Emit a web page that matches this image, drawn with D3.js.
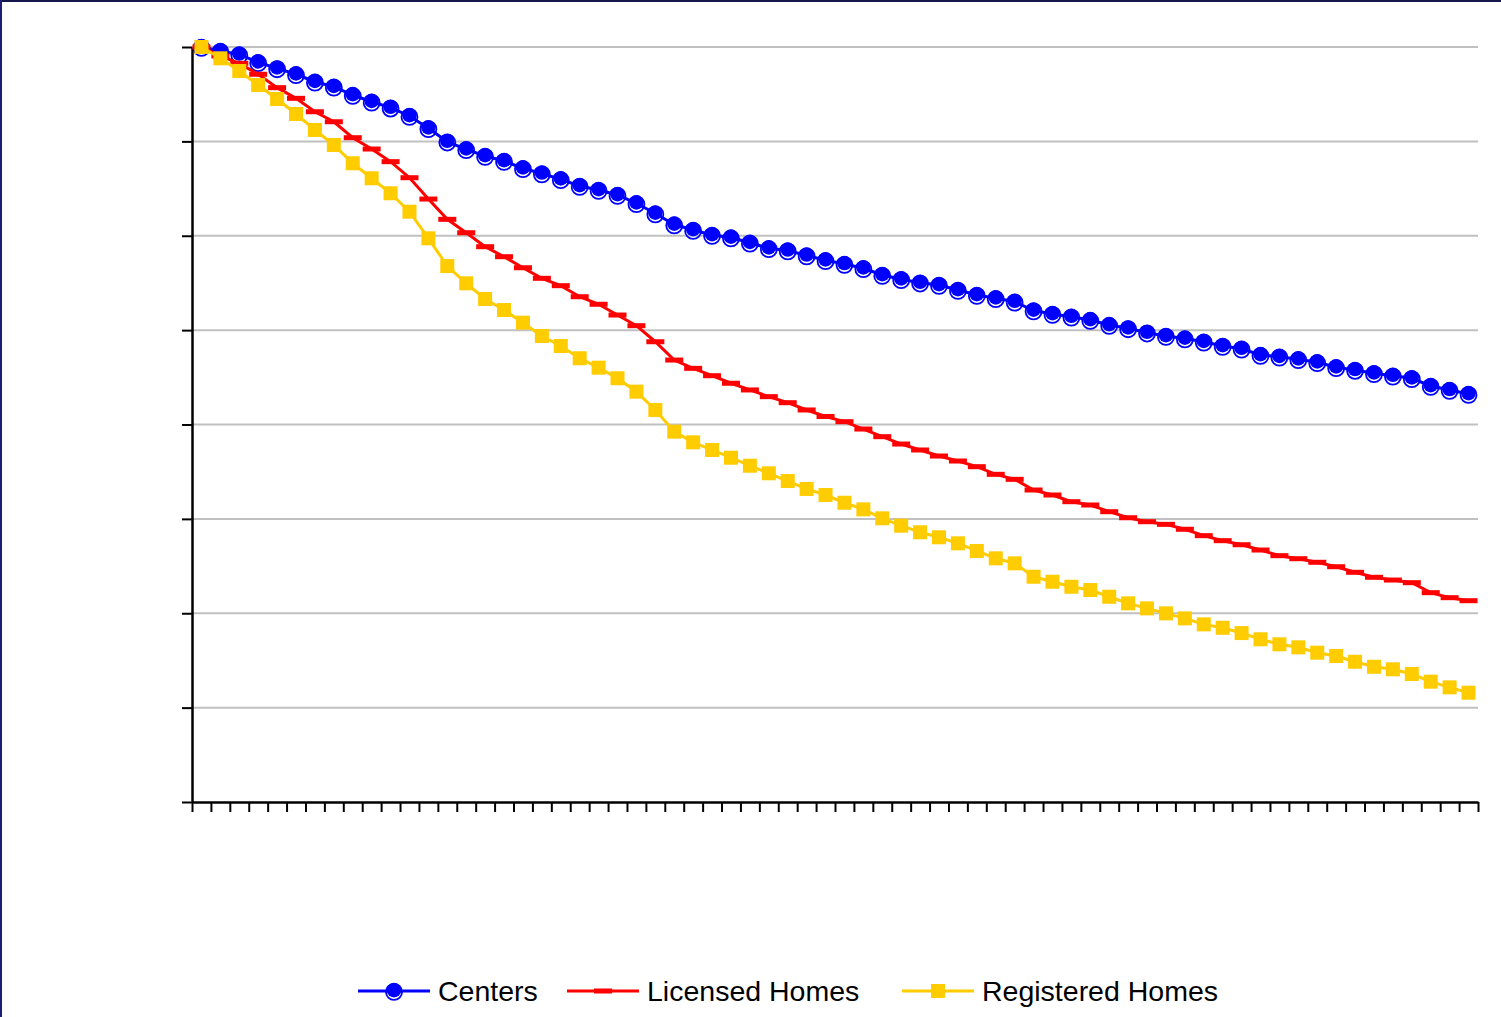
<!DOCTYPE html>
<html>
<head>
<meta charset="utf-8">
<script src="https://cdn.jsdelivr.net/npm/d3@7"></script>
<style>
  html, body { margin: 0; padding: 0; background: #fff; }
  svg { display: block; }
  text { font-family: "Liberation Sans", Arial, sans-serif; }
</style>
</head>
<body>
<svg id="chart" width="1501" height="1017"></svg>
<script>
// Period index (68 periods), each series indexed to 100 at the first period
const periods = [1,2,3,4,5,6,7,8,9,10,11,12,13,14,15,16,17,18,19,20,21,22,23,24,25,26,27,28,29,30,31,32,33,34,
  35,36,37,38,39,40,41,42,43,44,45,46,47,48,49,50,51,52,53,54,55,56,57,58,59,60,61,62,63,64,65,66,67,68];

const centers = [100,99.58,99.21,98.38,97.74,97.11,96.32,95.79,94.91,94.20,93.57,92.69,91.39,89.97,89.16,88.45,87.92,
  87.15,86.60,85.98,85.27,84.85,84.32,83.44,82.36,81.19,80.61,80.08,79.81,79.26,78.67,78.44,77.91,77.40,
  77.01,76.55,75.84,75.39,75.03,74.78,74.25,73.72,73.37,73.01,72.08,71.71,71.42,71.07,70.54,70.19,69.73,
  69.38,69.11,68.77,68.32,68.03,67.36,67.18,66.91,66.59,66.06,65.78,65.43,65.17,64.90,64.08,63.66,63.23];

const licensedHomes = [100,99.05,98.27,97.11,95.69,94.56,93.14,92.08,90.39,89.19,87.85,86.15,83.89,81.74,80.32,78.84,
  77.78,76.61,75.49,74.71,73.54,72.74,71.60,70.47,68.77,66.83,65.95,65.17,64.37,63.66,62.95,62.31,61.54,
  60.85,60.30,59.52,58.71,57.93,57.30,56.66,56.13,55.53,54.72,54.19,53.06,52.53,51.82,51.47,50.76,50.12,
  49.70,49.42,48.90,48.22,47.69,47.26,46.70,46.10,45.78,45.40,44.93,44.34,43.81,43.52,43.24,42.18,41.65,41.33];

const registeredHomes = [100,98.80,97.46,95.97,94.49,92.90,91.21,89.62,87.68,86.09,84.50,82.55,79.73,76.79,74.96,73.30,
  72.13,70.79,69.38,68.32,67.02,66.02,64.90,63.48,61.54,59.24,58.11,57.30,56.48,55.63,54.83,54.01,53.17,
  52.53,51.71,51.01,50.06,49.28,48.58,48.05,47.41,46.60,45.82,45.29,43.87,43.34,42.81,42.46,41.75,41.05,
  40.52,39.99,39.46,38.82,38.46,37.90,37.24,36.71,36.39,35.82,35.47,34.86,34.33,34.06,33.56,32.75,32.15,31.58];

const seriesNames = ["Centers", "Licensed Homes", "Registered Homes"];
const yTickValues = [20, 30, 40, 50, 60, 70, 80, 90, 100];

const svg = d3.select("#chart");
const W = 1501, H = 1017;
const plot = { left: 192, right: 1478, top: 47, bottom: 802 };

// frame edges along the top and left
svg.append("line").attr("x1", 0).attr("x2", W).attr("y1", 1).attr("y2", 1)
  .attr("stroke", "#16164f").attr("stroke-width", 2);
svg.append("line").attr("x1", 1).attr("x2", 1).attr("y1", 0).attr("y2", H)
  .attr("stroke", "#1e1e78").attr("stroke-width", 2);

const x = d3.scaleBand().domain(periods).range([plot.left, plot.right]).padding(0);
const xEdge = d3.scaleLinear().domain([0, periods.length]).range([plot.left, plot.right]);
const y = d3.scaleLinear().domain([20, 100]).range([plot.bottom, plot.top]);
const cx = d => x(d) + x.bandwidth() / 2;

// horizontal gridlines
svg.append("g").selectAll("line")
  .data(yTickValues.filter(v => v > 20))
  .join("line")
  .attr("x1", plot.left).attr("x2", plot.right)
  .attr("y1", d => y(d)).attr("y2", d => y(d))
  .attr("stroke", "#c0c0c0").attr("stroke-width", 2);

// y axis: tick marks only
const yAxis = svg.append("g")
  .attr("transform", `translate(${plot.left},0)`)
  .call(d3.axisLeft(y).tickValues(yTickValues).tickSize(10).tickSizeOuter(0).tickFormat(""));
// x axis: tick marks between periods
const xAxis = svg.append("g")
  .attr("transform", `translate(0,${plot.bottom})`)
  .call(d3.axisBottom(xEdge).tickValues(d3.range(periods.length + 1)).tickSize(10).tickSizeOuter(0).tickFormat(""));
[yAxis, xAxis].forEach(g => {
  g.selectAll("path.domain").attr("stroke", "#000").attr("stroke-width", 2.5);
  g.selectAll(".tick line").attr("stroke", "#000").attr("stroke-width", 2);
});

const BLUE = "#0000ff", RED = "#ff0000", GOLD = "#ffcc00";

const line = d3.line().x((d, i) => cx(periods[i])).y(d => y(d));

function drawCircleMarker(g, px, py) {
  g.append("circle").attr("cx", px).attr("cy", py + 0.9).attr("r", 8)
    .attr("fill", "none").attr("stroke", BLUE).attr("stroke-width", 1.8);
  g.append("circle").attr("cx", px).attr("cy", py - 0.9).attr("r", 7.3)
    .attr("fill", BLUE);
}
function drawDashMarker(g, px, py) {
  g.append("rect").attr("x", px - 9).attr("y", py - 2.5).attr("width", 18).attr("height", 5)
    .attr("fill", RED);
}
function drawSquareMarker(g, px, py) {
  g.append("rect").attr("x", px - 7).attr("y", py - 7).attr("width", 14).attr("height", 14)
    .attr("fill", GOLD);
}

// Centers
const gC = svg.append("g");
gC.append("path").datum(centers).attr("d", line)
  .attr("fill", "none").attr("stroke", BLUE).attr("stroke-width", 3);
centers.forEach((v, i) => drawCircleMarker(gC, cx(periods[i]), y(v)));

// Licensed Homes
const gL = svg.append("g");
gL.append("path").datum(licensedHomes).attr("d", line)
  .attr("fill", "none").attr("stroke", RED).attr("stroke-width", 3);
licensedHomes.forEach((v, i) => drawDashMarker(gL, cx(periods[i]), y(v)));

// Registered Homes
const gR = svg.append("g");
gR.append("path").datum(registeredHomes).attr("d", line)
  .attr("fill", "none").attr("stroke", GOLD).attr("stroke-width", 3);
registeredHomes.forEach((v, i) => drawSquareMarker(gR, cx(periods[i]), y(v)));

// legend
const legendY = 991;
const legendItems = [
  { name: seriesNames[0], color: BLUE, x0: 358, marker: drawCircleMarker },
  { name: seriesNames[1], color: RED, x0: 567, marker: drawDashMarker },
  { name: seriesNames[2], color: GOLD, x0: 902, marker: drawSquareMarker }
];
const gLeg = svg.append("g");
legendItems.forEach(it => {
  gLeg.append("line").attr("x1", it.x0).attr("x2", it.x0 + 72)
    .attr("y1", legendY).attr("y2", legendY)
    .attr("stroke", it.color).attr("stroke-width", 3);
  it.marker(gLeg, it.x0 + 36, legendY);
  gLeg.append("text").attr("x", it.x0 + 80).attr("y", legendY + 10)
    .attr("font-size", 28.5).attr("fill", "#000").text(it.name);
});
</script>
</body>
</html>
